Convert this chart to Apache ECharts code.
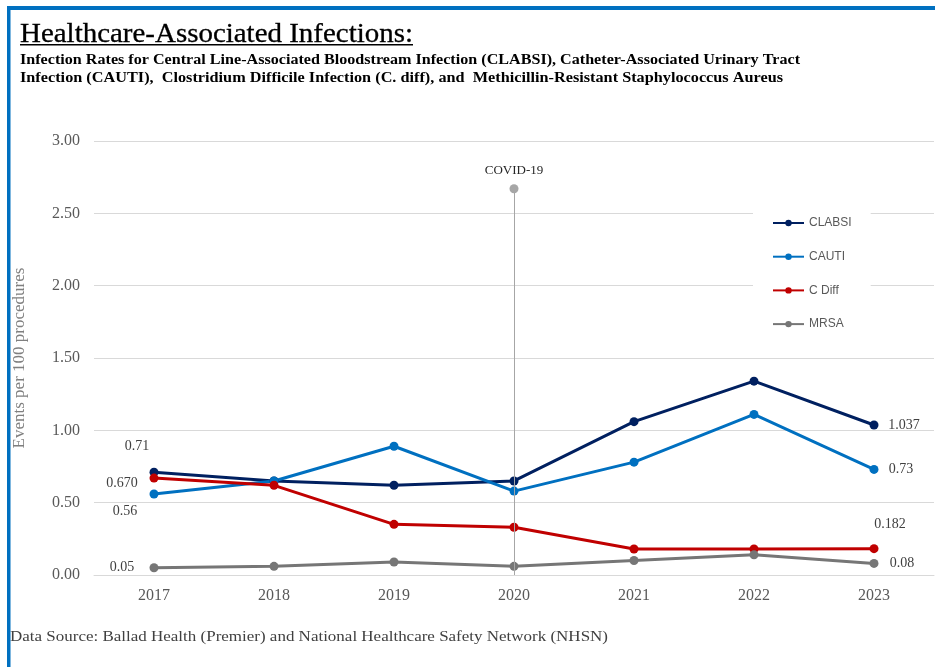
<!DOCTYPE html>
<html>
<head>
<meta charset="utf-8">
<title>Healthcare-Associated Infections</title>
<script src="https://cdn.jsdelivr.net/npm/echarts@6/dist/echarts.min.js"></script>
<style>
  html, body { margin: 0; padding: 0; background: #ffffff; }
  #chart { width: 935px; height: 667px; }
</style>
</head>
<body>
<div id="chart"></div>
<script>
// Reporting years
var years = ['2017', '2018', '2019', '2020', '2021', '2022', '2023'];

// Events per 100 procedures
var clabsi = [0.71, 0.65, 0.62, 0.65, 1.06, 1.34, 1.037];
var cauti  = [0.56, 0.65, 0.89, 0.58, 0.78, 1.11, 0.73];
var cdiff  = [0.67, 0.62, 0.35, 0.33, 0.18, 0.18, 0.182];
var mrsa   = [0.05, 0.06, 0.09, 0.06, 0.10, 0.14, 0.08];

// Decimal places shown on the first / last point labels
var clabsiDigits = [2, 3];
var cautiDigits  = [2, 2];
var cdiffDigits  = [3, 3];
var mrsaDigits   = [2, 2];

// Y-axis ticks
var yTicks = [0, 0.5, 1.0, 1.5, 2.0, 2.5, 3.0];

// COVID-19 marker
var covidYear = '2020';
var covidTop = 2.67;

var titleText = 'Healthcare-Associated Infections:';
var subtitle1 = 'Infection Rates for Central Line-Associated Bloodstream Infection (CLABSI), Catheter-Associated Urinary Tract';
var subtitle2 = 'Infection (CAUTI),  Clostridium Difficile Infection (C. diff), and  Methicillin-Resistant Staphylococcus Aureus';
var sourceText = 'Data Source: Ballad Health (Premier) and National Healthcare Safety Network (NHSN)';

var SERIF = '"Liberation Serif", "DejaVu Serif", serif';
var SANS = '"Liberation Sans", "DejaVu Sans", sans-serif';

// horizontal scale factor so a text run spans a given width
var measureCtx = document.createElement('canvas').getContext('2d');
function fitScale(text, font, width) {
  measureCtx.font = font;
  return width / measureCtx.measureText(text).width;
}

// labels on the first and last points only
function pointLabels(values, digits, offsets) {
  return values.map(function (v, i) {
    var k = i === 0 ? 0 : (i === values.length - 1 ? 1 : -1);
    if (k < 0) return v;
    return {
      value: v,
      label: {
        show: true,
        position: 'inside',
        offset: offsets[k],
        formatter: function () { return v.toFixed(digits[k]); }
      }
    };
  });
}

function lineSeries(name, color, values, digits, offsets) {
  return {
    name: name,
    type: 'line',
    data: pointLabels(values, digits, offsets),
    symbol: 'circle',
    symbolSize: 9,
    lineStyle: { color: color, width: 3 },
    itemStyle: { color: color },
    label: {
      show: false,
      color: '#404040',
      fontFamily: SERIF,
      fontSize: 14
    },
    emphasis: { disabled: true },
    z: 3
  };
}

var titleFont = '27px ' + SERIF;
var subFont = 'bold 15px ' + SERIF;
var srcFont = '15.5px ' + SERIF;
var titleScale = fitScale(titleText, titleFont, 393);
var sub1Scale = fitScale(subtitle1, subFont, 780);
var sub2Scale = fitScale(subtitle2, subFont, 763);
var srcScale = fitScale(sourceText, srcFont, 598);

var chart = echarts.init(document.getElementById('chart'), null, { renderer: 'canvas' });

var clabsiSeries = lineSeries('CLABSI', '#002060', clabsi, clabsiDigits, [[-17, -26], [30, 0]]);
clabsiSeries.markLine = {
  silent: true,
  symbol: ['none', 'circle'],
  symbolSize: 9,
  lineStyle: { color: '#a6a6a6', width: 1, type: 'solid' },
  itemStyle: { color: '#a6a6a6' },
  label: {
    show: true,
    position: 'end',
    distance: 12,
    formatter: 'COVID-19',
    color: '#262626',
    fontFamily: SERIF,
    fontSize: 13
  },
  emphasis: { disabled: true },
  data: [[{ coord: [covidYear, 0] }, { coord: [covidYear, covidTop] }]]
};

var option = {
  backgroundColor: '#ffffff',
  animation: false,
  grid: { left: 94, right: 1, top: 141, bottom: 92, containLabel: false },
  legend: {
    orient: 'vertical',
    left: 753,
    top: 205,
    padding: [12, 19, 12, 19],
    backgroundColor: '#ffffff',
    itemWidth: 31,
    itemHeight: 8,
    itemGap: 21.7,
    textStyle: { color: '#595959', fontFamily: SANS, fontSize: 12 },
    data: ['CLABSI', 'CAUTI', 'C Diff', 'MRSA'],
    z: 5
  },
  xAxis: {
    type: 'category',
    data: years,
    boundaryGap: true,
    axisLine: { show: true, lineStyle: { color: '#d9d9d9', width: 1 } },
    axisTick: { show: false },
    axisLabel: { color: '#595959', fontFamily: SERIF, fontSize: 16, margin: 13 },
    splitLine: { show: false }
  },
  yAxis: {
    type: 'value',
    min: yTicks[0],
    max: yTicks[yTicks.length - 1],
    interval: yTicks[1] - yTicks[0],
    name: 'Events per 100 procedures',
    nameLocation: 'middle',
    nameGap: 66,
    nameTextStyle: { color: '#7f7f7f', fontFamily: SERIF, fontSize: 17 },
    axisLine: { show: false },
    axisTick: { show: false },
    axisLabel: {
      color: '#595959', fontFamily: SERIF, fontSize: 16, margin: 14,
      formatter: function (v) { return v.toFixed(2); }
    },
    splitLine: { lineStyle: { color: '#d9d9d9', width: 1 } }
  },
  series: [
    clabsiSeries,
    lineSeries('CAUTI', '#0070c0', cauti, cautiDigits, [[-29, 17], [27, 0]]),
    lineSeries('C Diff', '#c00000', cdiff, cdiffDigits, [[-32, 5], [16, -24]]),
    lineSeries('MRSA', '#767676', mrsa, mrsaDigits, [[-32, 0], [28, 0]])
  ],
  graphic: [
    // frame edges
    { type: 'rect', shape: { x: 7, y: 6, width: 928, height: 4 }, style: { fill: '#0070c0' }, silent: true, z: 10 },
    { type: 'rect', shape: { x: 7, y: 6, width: 3.5, height: 661 }, style: { fill: '#0070c0' }, silent: true, z: 10 },
    // heading
    {
      type: 'text', x: 20, y: 21, scaleX: titleScale, silent: true,
      style: { text: titleText, font: titleFont, fill: '#000000', stroke: '#000000', lineWidth: 0.3 }
    },
    { type: 'rect', shape: { x: 20, y: 44, width: 393, height: 1.4 }, style: { fill: '#000000' }, silent: true },
    {
      type: 'text', x: 20, y: 52.5, scaleX: sub1Scale, silent: true,
      style: { text: subtitle1, font: subFont, fill: '#000000' }
    },
    {
      type: 'text', x: 20, y: 70.5, scaleX: sub2Scale, silent: true,
      style: { text: subtitle2, font: subFont, fill: '#000000' }
    },
    {
      type: 'text', x: 10, y: 629, scaleX: srcScale, silent: true,
      style: { text: sourceText, font: srcFont, fill: '#404040' }
    }
  ]
};

chart.setOption(option);
</script>
</body>
</html>
